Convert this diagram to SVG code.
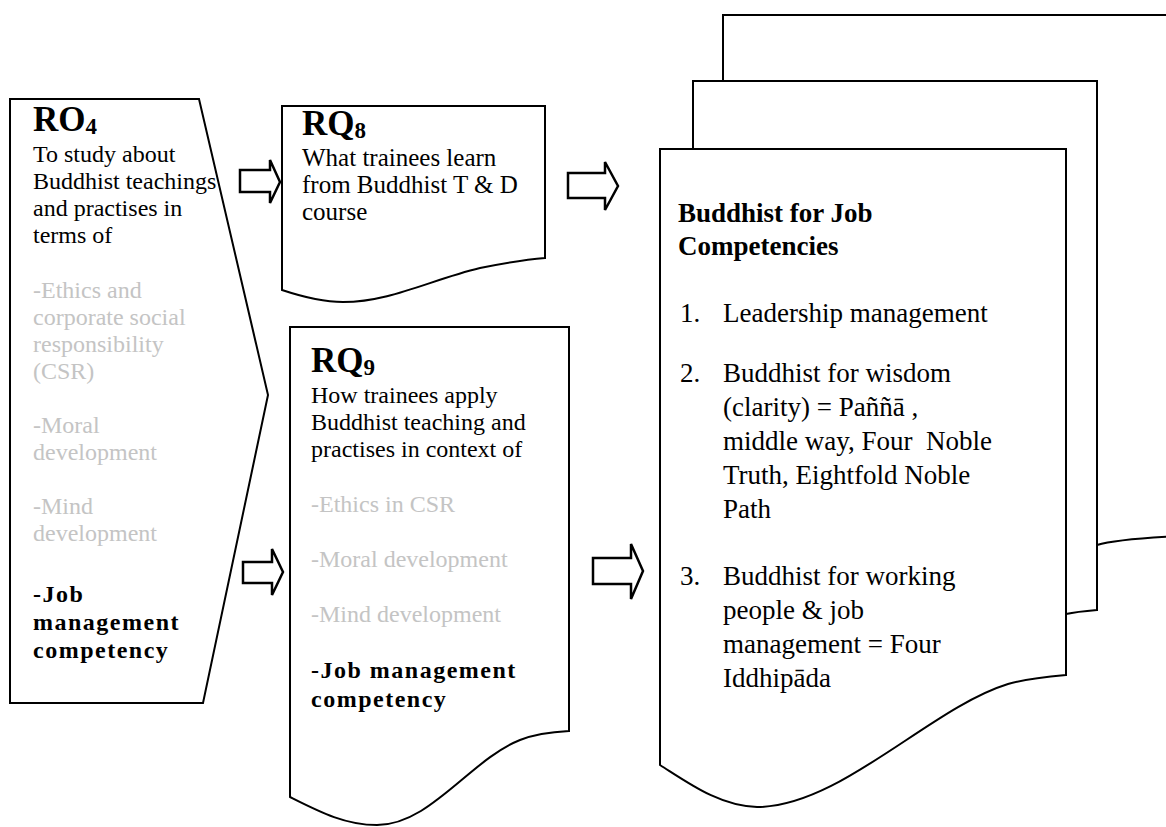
<svg xmlns="http://www.w3.org/2000/svg" width="1166" height="827" viewBox="0 0 1166 827">
<style>
.shape{fill:#fff;stroke:#000;stroke-width:2;stroke-linejoin:miter}
.arrow{fill:#fff;stroke:#000;stroke-width:2.5;stroke-linejoin:miter}
text{font-family:"Liberation Serif","Times New Roman",serif;fill:#000}
.h{font-size:35px;font-weight:bold}
.sub{font-size:23px;font-weight:bold}
.t{font-size:24px}
.t25{font-size:25px}
.g{font-size:24px;fill:#c4c4c4}
.b{font-size:24px;font-weight:bold;letter-spacing:1.5px}
.r{font-size:27px}
.rb{font-size:27px;font-weight:bold}
</style>
<rect width="1166" height="827" fill="#fff"/>

<g id="stack">
  <path class="shape" d="M723,15 H1180 V536 C1140,538 1110,541 1097,545 C1000,580 900,660 820,660 C780,660 750,645 723,630 Z"/>
  <path class="shape" d="M693,81 H1097 V610 C1085,611 1075,612 1066,614 C980,640 880,720 790,720 C750,720 720,705 693,690 Z"/>
  <path class="shape" d="M660,149 H1066 V675 C1045,677 1025,679 1008,684 C930,708 840,807 757,807 C720,806 690,784 660,765 Z"/>
  <text class="rb" x="678" y="222">Buddhist for Job</text>
  <text class="rb" x="678" y="255">Competencies</text>
  <text class="r" x="680" y="322">1.</text>
  <text class="r" x="723" y="322">Leadership management</text>
  <text class="r" x="680" y="382">2.</text>
  <text class="r" x="723" y="382">Buddhist for wisdom</text>
  <text class="r" x="723" y="416">(clarity) = Paññā ,</text>
  <text class="r" x="723" y="450" xml:space="preserve">middle way, Four  Noble</text>
  <text class="r" x="723" y="484">Truth, Eightfold Noble</text>
  <text class="r" x="723" y="518">Path</text>
  <text class="r" x="680" y="585">3.</text>
  <text class="r" x="723" y="585">Buddhist for working</text>
  <text class="r" x="723" y="619">people &amp; job</text>
  <text class="r" x="723" y="653">management = Four</text>
  <text class="r" x="723" y="687">Iddhipāda</text>
</g>

<g id="RO4">
  <polygon class="shape" points="10,99 199,99 268,395 203,703 10,703"/>
  <text class="h" x="33" y="131">RO<tspan class="sub" dy="3">4</tspan></text>
  <text class="t" x="33" y="162">To study about</text>
  <text class="t" x="33" y="189">Buddhist teachings</text>
  <text class="t" x="33" y="216">and practises in</text>
  <text class="t" x="33" y="243">terms of</text>
  <text class="g" x="33" y="298">-Ethics and</text>
  <text class="g" x="33" y="325">corporate social</text>
  <text class="g" x="33" y="352">responsibility</text>
  <text class="g" x="33" y="379">(CSR)</text>
  <text class="g" x="33" y="433">-Moral</text>
  <text class="g" x="33" y="460">development</text>
  <text class="g" x="33" y="514">-Mind</text>
  <text class="g" x="33" y="541">development</text>
  <text class="b" x="33" y="602">-Job</text>
  <text class="b" x="33" y="630">management</text>
  <text class="b" x="33" y="658">competency</text>
</g>

<g id="RQ8">
  <path class="shape" d="M282,106 H545 V258 C520,260 500,264 480,268 C430,280 390,302 343,302 C320,302 300,296 282,290 Z"/>
  <text class="h" x="302" y="135">RQ<tspan class="sub" dy="3">8</tspan></text>
  <text class="t25" x="302" y="166">What trainees learn</text>
  <text class="t25" x="302" y="193">from Buddhist T &amp; D</text>
  <text class="t25" x="302" y="220">course</text>
</g>

<g id="RQ9">
  <path class="shape" d="M290,327 H569 V731 C550,732 535,734 520,740 C470,760 430,825 377,825 C345,825 320,812 290,797 Z"/>
  <text class="h" x="311" y="372">RQ<tspan class="sub" dy="3">9</tspan></text>
  <text class="t" x="311" y="403">How trainees apply</text>
  <text class="t" x="311" y="430">Buddhist teaching and</text>
  <text class="t" x="311" y="457">practises in context of</text>
  <text class="g" x="311" y="512">-Ethics in CSR</text>
  <text class="g" x="311" y="567">-Moral development</text>
  <text class="g" x="311" y="622">-Mind development</text>
  <text class="b" x="311" y="678">-Job management</text>
  <text class="b" x="311" y="707">competency</text>
</g>

<g id="connectors">
  <polygon class="arrow" points="240,170 270,170 270,160 280,182 270,203 270,192 240,192"/>
  <polygon class="arrow" points="568,173 605,173 605,162 618,186 605,210 605,198 568,198"/>
  <polygon class="arrow" points="243,562 272,562 272,549 283,572 272,595 272,583 243,583"/>
  <polygon class="arrow" points="593,558 631,558 631,544 643,571 631,599 631,584 593,584"/>
</g>
</svg>
